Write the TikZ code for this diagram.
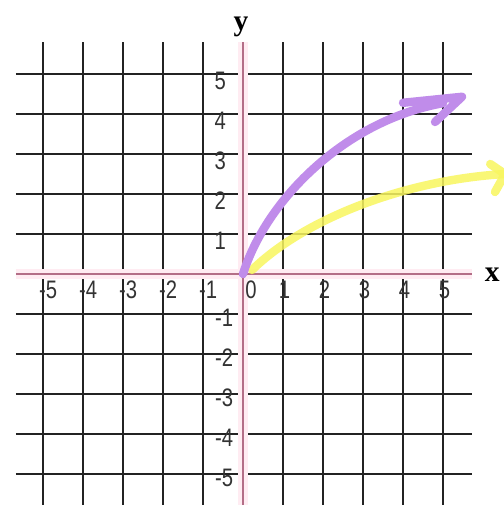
\documentclass[tikz,border=0pt]{standalone}
\usepackage{fontspec}
\setmainfont{Liberation Sans}
\newfontfamily\tickfont{Liberation Sans}[FakeStretch=0.8]
\newfontfamily\axisfont{Liberation Serif}
\usetikzlibrary{calc}
\definecolor{gridgray}{RGB}{35,35,35}
\definecolor{axispink}{RGB}{180,110,135}
\definecolor{axisglow}{RGB}{255,236,242}
\definecolor{penpurple}{RGB}{192,140,234}
\definecolor{penyellow}{RGB}{248,246,95}

\begin{document}
\begin{tikzpicture}[
    font=\tickfont\fontsize{18}{18}\selectfont,
    gline/.style={draw=gridgray, line width=2.1pt},
    axline/.style={draw=axispink, line width=1pt},
    axglow/.style={draw=axisglow, line width=7pt},
    tick/.style={inner sep=0pt, text=black!80},
    axlbl/.style={inner sep=0pt, font=\axisfont\bfseries\fontsize{21}{21}\selectfont},
    pen/.style={line width=6pt, line cap=round, line join=round}
  ]
\useasboundingbox[fill=white] (-6.075,-5.775) rectangle (6.525,6.85);

% =================== grid ===================
\foreach \k in {-5,...,-1,1,2,3,4,5}{
  \draw[gline] (\k,-5.9) -- (\k,5.8);
  \draw[gline] (-5.675,\k) -- (5.725,\k);
}

% =================== axes ===================
\draw[axglow] (-5.675,0) -- (5.725,0);
\draw[axglow] (0,-5.9) -- (0,5.8);
\draw[axline] (-5.675,0) -- (5.725,0);
\draw[axline] (0,-5.9) -- (0,5.8);
\coordinate (O) at (0,0);
\node[axlbl] (ylab) at (-0.05,6.18) {y};
\node[axlbl] (xlab) at (6.23,-0.02) {x};

% tick numbers
\foreach \k in {1,...,5}{
  \node[tick] (ypos\k) at (-0.57,\k-0.17) {\k};
  \node[tick] (yneg\k) at (-0.47,-\k-0.1) {-\k};
  \node[tick] (xpos\k) at (\k+0.04,-0.4) {\k};
  \node[tick] (xneg\k) at (-\k+0.13,-0.4) {-\k};
}
\node[tick] (zero) at (0.2,-0.4) {0};

% =================== hand-drawn arrows ===================
% yellow one (under the purple one)
\coordinate (ytip) at (6.55,2.5);
\draw[pen, penyellow, opacity=0.85] (0.225,0.1) .. controls (1.5,1.35) and (4.0,2.35) .. (ytip);
\draw[pen, penyellow, opacity=0.85] (6.18,2.75) -- (ytip) -- (6.3,2.05);

% purple one
\coordinate (ptip) at (5.475,4.43);
\draw[pen, penpurple] (O) .. controls (0.6,1.9) and (2.6,3.85) .. (5.0,4.27);
\draw[pen, penpurple] (4.0,4.28) -- (ptip) -- (4.8,3.8);

\end{tikzpicture}
\end{document}
